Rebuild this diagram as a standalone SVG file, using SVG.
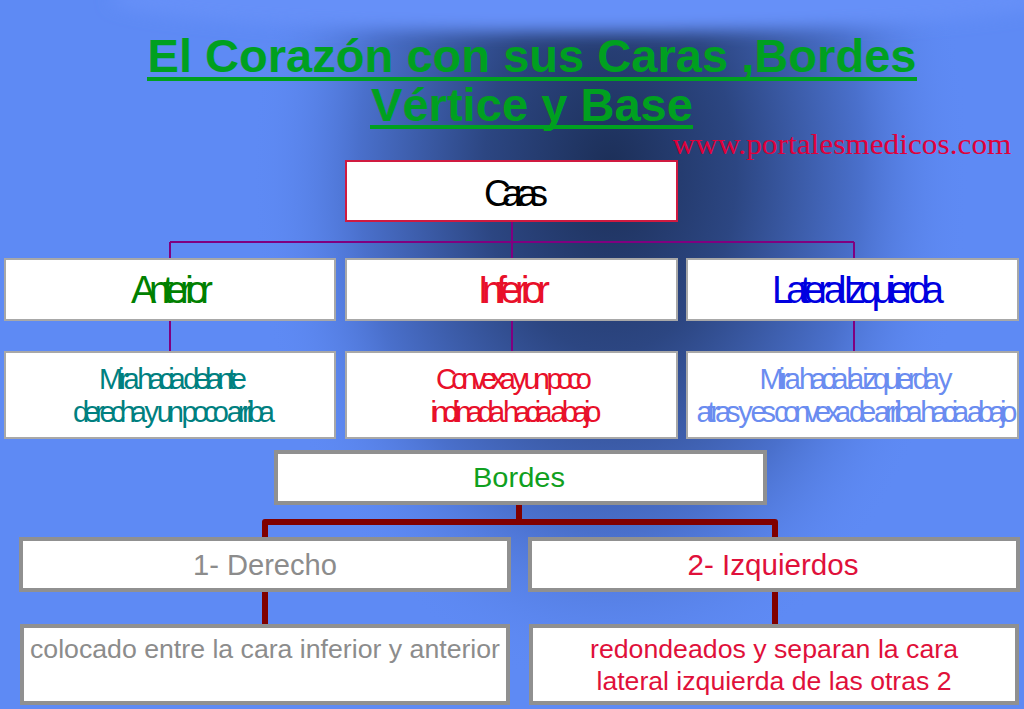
<svg xmlns="http://www.w3.org/2000/svg" width="1024" height="709" viewBox="0 0 1024 709">
<defs>
<radialGradient id="dark" cx="610" cy="170" r="1" gradientUnits="userSpaceOnUse" gradientTransform="translate(610 170) scale(360 520) translate(-610 -170)">
<stop offset="0" stop-color="#1c2f58"/>
<stop offset="0.35" stop-color="#2c4682"/>
<stop offset="0.7" stop-color="#4a70cc"/>
<stop offset="1" stop-color="#5e8af4" stop-opacity="0"/>
</radialGradient>
<filter id="blur" x="-20%" y="-100%" width="140%" height="300%"><feGaussianBlur stdDeviation="8"/></filter>
<style>
.box{fill:#fff;stroke:#a8a8a8;stroke-width:2}
.box2{fill:#fff;stroke:#909090;stroke-width:4}
.cond{font-family:"Liberation Sans",Arial,sans-serif;text-anchor:middle}
.sans{font-family:"Liberation Sans",Arial,sans-serif;text-anchor:middle}
.pl{stroke:#800080;stroke-width:2;fill:none}
.rl{stroke:#800000;stroke-width:6;fill:none;stroke-linejoin:round}
</style>
</defs>
<rect width="1024" height="709" fill="#5e8af4"/>
<rect width="1024" height="709" fill="url(#dark)"/>
<ellipse cx="580" cy="0" rx="470" ry="32" fill="#6690f8" filter="url(#blur)"/>

<g id="title">
<text x="532" y="72" font-family="'Liberation Sans',Arial,sans-serif" font-weight="bold" font-size="46" fill="#00a020" text-anchor="middle" textLength="769" lengthAdjust="spacingAndGlyphs">El Corazón con sus Caras ,Bordes</text>
<rect x="147" y="77" width="770" height="4" fill="#00a020"/>
<text x="532" y="121" font-family="'Liberation Sans',Arial,sans-serif" font-weight="bold" font-size="46" fill="#00a020" text-anchor="middle" textLength="322" lengthAdjust="spacingAndGlyphs">Vértice y Base</text>
<rect x="370" y="125" width="323" height="4" fill="#00a020"/>
<text x="842" y="154" font-family="'Liberation Serif','Times New Roman',serif" font-size="29" fill="#e0003a" text-anchor="middle" textLength="339" lengthAdjust="spacingAndGlyphs">www.portalesmedicos.com</text>
</g>

<g id="connectors">
<path class="pl" d="M512 221 V242 M170 242 H854 M170 242 V260 M512 242 V260 M854 242 V260 M170 320 V353 M512 320 V353 M854 320 V353"/>
<path class="rl" d="M519 504 V522 M265 537 V522 H775 V537 M265 592 V625 M775 592 V625"/>
</g>

<g id="caras">
<rect x="346" y="161" width="331" height="60" fill="#fff" stroke="#d01a40" stroke-width="2"/>
<text class="cond" x="516" y="206" font-size="37" fill="#000" textLength="64" lengthAdjust="spacing">Caras</text>
</g>
<g id="anterior">
<rect class="box" x="5" y="259" width="330" height="61"/>
<text class="cond" x="172" y="303" font-size="38" fill="#008000" textLength="82" lengthAdjust="spacing">Anterior</text>
</g>
<g id="inferior">
<rect class="box" x="346" y="259" width="331" height="61"/>
<text class="cond" x="514" y="303" font-size="38" fill="#e8102a" textLength="72" lengthAdjust="spacing">Inferior</text>
</g>
<g id="lateral">
<rect class="box" x="687" y="259" width="331" height="61"/>
<text class="cond" x="858" y="303" font-size="38" fill="#0000e0" textLength="172" lengthAdjust="spacing">Lateral Izquierda</text>
</g>
<g id="anterior-desc">
<rect class="box" x="5" y="352" width="330" height="86"/>
<text class="cond" x="173" y="389" font-size="29" fill="#008080" textLength="148" lengthAdjust="spacing">Mira hacia delante</text>
<text class="cond" x="174" y="422" font-size="29" fill="#008080" textLength="202" lengthAdjust="spacing">derecha y un poco arriba</text>
</g>
<g id="inferior-desc">
<rect class="box" x="346" y="352" width="331" height="86"/>
<text class="cond" x="514" y="389" font-size="29" fill="#e8102a" textLength="156" lengthAdjust="spacing">Convexa y un poco</text>
<text class="cond" x="516" y="422" font-size="29" fill="#e8102a" textLength="171" lengthAdjust="spacing">inclinada hacia abajo</text>
</g>
<g id="lateral-desc">
<rect class="box" x="687" y="352" width="331" height="86"/>
<text class="cond" x="856" y="389" font-size="29" fill="#6a8cf0" textLength="193" lengthAdjust="spacing">Mira hacia la izquierda y</text>
<text class="cond" x="857" y="422" font-size="29" fill="#6a8cf0" textLength="321" lengthAdjust="spacing">atras y es convexa de arriba hacia abajo</text>
</g>

<g id="bordes">
<rect class="box2" x="276" y="452" width="489" height="51"/>
<text class="sans" x="519" y="487" font-size="27" fill="#10a020" textLength="92" lengthAdjust="spacingAndGlyphs">Bordes</text>
</g>
<g id="derecho">
<rect class="box2" x="21" y="539" width="488" height="51"/>
<text class="sans" x="265" y="575" font-size="29" fill="#8c8c8c" textLength="144" lengthAdjust="spacingAndGlyphs">1- Derecho</text>
</g>
<g id="izquierdos">
<rect class="box2" x="530" y="539" width="488" height="51"/>
<text class="sans" x="773" y="575" font-size="29" fill="#e0103a" textLength="171" lengthAdjust="spacingAndGlyphs">2- Izquierdos</text>
</g>
<g id="derecho-desc">
<rect class="box2" x="22" y="626" width="486" height="77"/>
<text class="sans" x="265" y="658" font-size="25" fill="#8c8c8c" textLength="470" lengthAdjust="spacingAndGlyphs">colocado entre la cara inferior y anterior</text>
</g>
<g id="izquierdos-desc">
<rect class="box2" x="531" y="626" width="486" height="77"/>
<text class="sans" x="774" y="658" font-size="26" fill="#e0103a" textLength="368" lengthAdjust="spacingAndGlyphs">redondeados y separan la cara</text>
<text class="sans" x="774" y="690" font-size="26" fill="#e0103a" textLength="355" lengthAdjust="spacingAndGlyphs">lateral izquierda de las otras 2</text>
</g>
</svg>
